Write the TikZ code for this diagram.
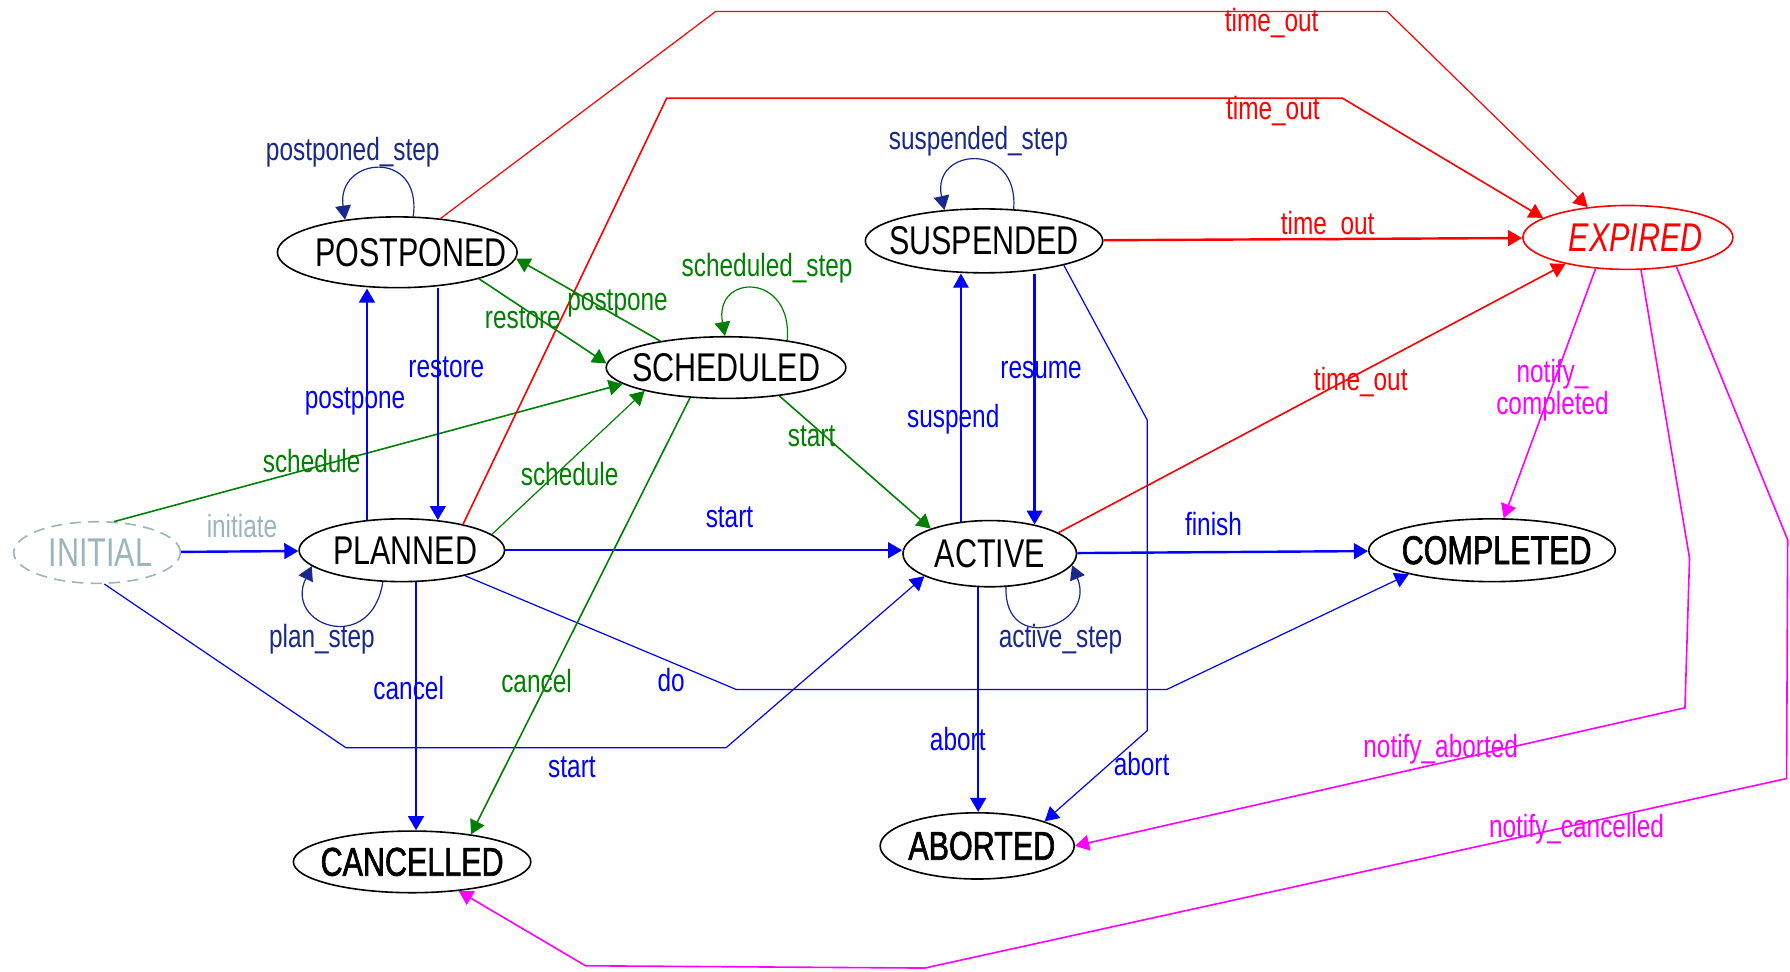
\documentclass[tikz,border=0pt]{standalone}
\usepackage{fontspec}
\setmainfont[FakeStretch=0.76]{Liberation Sans}
\newfontfamily\heavyface[FakeStretch=0.76,FakeBold=1.6]{Liberation Sans}
\usetikzlibrary{shapes.geometric,arrows.meta}
\definecolor{loopblue}{RGB}{24,40,140}
\definecolor{initgray}{RGB}{154,181,187}
\definecolor{trgreen}{RGB}{0,128,0}
\definecolor{notifymag}{RGB}{255,0,255}
\newcommand{\stname}[2][0mm]{\makebox[0pt]{\hspace*{#1}#2}}

\begin{document}
\begin{tikzpicture}[x=0.1mm,y=-0.1mm,>={Triangle[length=3.5pt,width=3.9pt]}]
\tikzstyle{state}=[ellipse,draw,inner sep=0pt,line width=0.4pt,font=\fontsize{10}{12}\selectfont]
\tikzstyle{final}=[state,font=\fontsize{10}{12}\selectfont\heavyface]
\tikzstyle{lbl}=[inner sep=0pt,font=\fontsize{8}{9}\selectfont]
\tikzstyle{heavy}=[->,line width=0.6pt]
\tikzstyle{medium}=[->,line width=0.4pt]
\tikzstyle{light}=[->,line width=0.3pt]
\useasboundingbox (0,0) rectangle (1568,851);

\node[state,draw=initgray,text=initgray,dash pattern=on 2.8pt off 1.8pt,minimum width=14.6mm,minimum height=5.4mm] (initial) at (85,484) {\stname[0.6mm]{INITIAL}};
\node[state,minimum width=21mm,minimum height=6.2mm] (postponed) at (348,221) {\stname[2.4mm]{POSTPONED}};
\node[state,minimum width=21mm,minimum height=5.4mm] (scheduled) at (636,322) {\stname{SCHEDULED}};
\node[state,minimum width=20.8mm,minimum height=5.6mm] (suspended) at (862,211) {\stname{SUSPENDED}};
\node[state,draw=red,text=red,minimum width=18.4mm,minimum height=5.6mm,font=\fontsize{10}{12}\selectfont\itshape] (expired) at (1426,208) {\stname[1.4mm]{EXPIRED}};
\node[state,minimum width=18mm,minimum height=5.5mm] (planned) at (352,482) {\stname[0.6mm]{PLANNED}};
\node[state,minimum width=15.2mm,minimum height=5.8mm] (active) at (867,485) {\stname{ACTIVE}};
\node[final,minimum width=21.6mm,minimum height=5.5mm] (completed) at (1307,482) {\stname[0.8mm]{COMPLETED}};
\node[final,minimum width=20.8mm,minimum height=5.4mm] (cancelled) at (361,755) {\stname{CANCELLED}};
\node[final,minimum width=17mm,minimum height=5.8mm] (aborted) at (856,741) {\stname[0.8mm]{ABORTED}};

\draw[heavy,blue] (initial) -- (planned) node[lbl,text=initgray,at={(212,461)}] (l-initiate) {initiate};
\draw[medium,trgreen] (initial.61) -- (scheduled.189) node[lbl,at={(273,404)}] (l-schedule1) {schedule};
\draw[light,blue] (initial.283) -- (303,655) -- (636,655) -- (active.199) node[lbl,at={(501,672)}] (l-start1) {start};
\draw[heavy,blue] (planned.139) -- (planned.139 |- postponed.south) node[lbl,at={(311,352)}] (l-postpone1) {postpone};
\draw[heavy,blue] (planned.40 |- postponed.south) -- (planned.40) node[lbl,at={(391,322)}] (l-restore1) {restore};
\draw[light,trgreen] (planned.10) -- (scheduled.196) node[lbl,at={(499,415)}] (l-schedule2) {schedule};
\draw[heavy,blue] (planned.east) -- (planned.east -| active.west) node[lbl,at={(639,453)}] (l-start2) {start};
\draw[light,blue] (planned.338) -- (645,604) -- (1022,604) -- (completed.196) node[lbl,at={(588,596)}] (l-do) {do};
\draw[heavy,blue] (planned.294) -- (planned.294 |- cancelled.north) node[lbl,at={(358,603)}] (l-cancel1) {cancel};
\draw[light,loopblue] (planned.239) .. controls +(-10,65) and +(-25,52) .. (planned.190) node[lbl,at={(282,560)}] (l-planstep) {plan\_step};
\draw[medium,red] (planned.23) -- (584,86) -- (1176,86) -- (expired.167) node[lbl,at={(1115,97)}] (l-timeout1) {time\_out};
\draw[light,red] (postponed.38) -- (627,10) -- (1215,10) -- (expired.143) node[lbl,at={(1114,20)}] (l-timeout2) {time\_out};
\draw[light,loopblue] (postponed.66) .. controls +(8,-60) and +(-8,-55) .. (postponed.148) node[lbl,at={(309,133)}] (l-poststep) {postponed\_step};
\draw[medium,trgreen] (scheduled.158) -- (postponed.357) node[lbl,at={(541,266)}] (l-postpone2) {postpone};
\draw[medium,trgreen] (postponed.342) -- (scheduled.178) node[lbl,at={(458,279)}] (l-restore2) {restore};
\draw[light,trgreen] (scheduled.24) .. controls +(5,-60) and +(-10,-55) .. (scheduled.92) node[lbl,at={(672,235)}] (l-schedstep) {scheduled\_step};
\draw[medium,trgreen] (scheduled.332) -- (active.157) node[lbl,at={(711,382)}] (l-start3) {start};
\draw[medium,trgreen] (scheduled.220) -- (cancelled.25) node[lbl,at={(470,597)}] (l-cancel2) {cancel};
\draw[light,blue] (active.132) -- (active.132 |- suspended.south) node[lbl,at={(835,367)}] (l-suspend) {suspend};
\draw[heavy,blue] (active.33 |- suspended.south) -- (active.33) node[lbl,at={(912,324)}] (l-resume) {resume};
\draw[light,blue] (suspended.343) -- (1005,368) -- (1005,640) -- (aborted.20) node[lbl,at={(1000,669)}] (l-abort1) {abort};
\draw[light,loopblue] (suspended.47) .. controls +(5,-60) and +(-12,-55) .. (suspended.142) node[lbl,at={(857,124)}] (l-suspstep) {suspended\_step};
\draw[heavy,red] (suspended) -- (expired) node[lbl,at={(1163,198)}] (l-timeout3) {time\_out};
\draw[medium,red] (active.17) -- (expired.203) node[lbl,at={(1192,335)}] (l-timeout4) {time\_out};
\draw[heavy,blue] (active) -- (completed) node[lbl,at={(1063,459)}] (l-finish) {finish};
\draw[heavy,blue] (active.251) -- (active.251 |- aborted.north) node[lbl,at={(839,647)}] (l-abort2) {abort};
\draw[light,loopblue] (active.296) .. controls +(-2,61) and +(22,53) .. (active.352) node[lbl,at={(929,560)}] (l-actstep) {active\_step};
\draw[medium,notifymag] (expired.224) -- (completed.70) node[lbl,align=center,font=\fontsize{8}{7.9}\selectfont,at={(1360,342)}] (l-notifyc) {notify\_\\completed};
\draw[medium,notifymag] (expired.292) -- (1480,489) -- (1476,620) -- (aborted.east) node[lbl,at={(1262,656)}] (l-notifya) {notify\_aborted};
\draw[medium,notifymag] (expired.329) -- (1566,473) -- (1565,682) -- (810,848) -- (513,846) -- (cancelled.328) node[lbl,at={(1381,726)}] (l-notifyx) {notify\_cancelled};
\end{tikzpicture}
\end{document}
